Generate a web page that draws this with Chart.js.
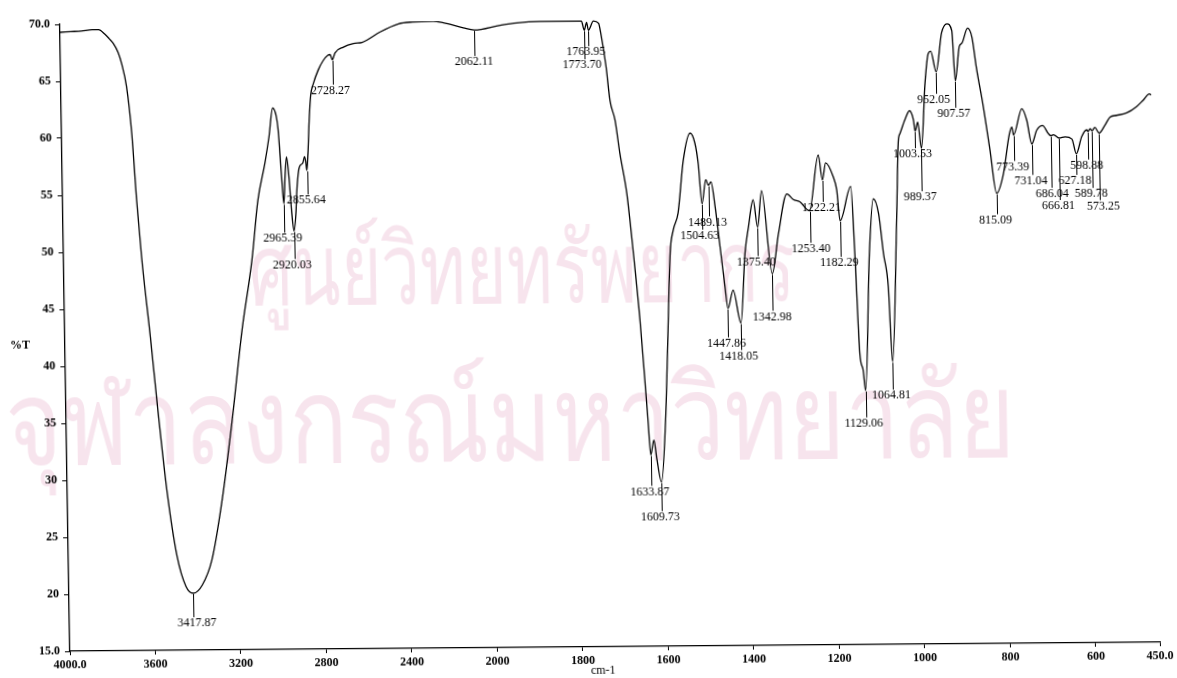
<!DOCTYPE html>
<html>
<head>
<meta charset="utf-8">
<script src="https://cdn.jsdelivr.net/npm/chart.js@4.4.1/dist/chart.umd.min.js"></script>
<style>
  html, body { margin: 0; padding: 0; background: #fff; }
  #ir {
    display: block;
    /* the trace was scanned slightly skewed */
    transform-origin: 588.5px 339px;
    transform: matrix(1, -0.0083, 0.016, 1, 0, 0);
  }
</style>
</head>
<body>
<canvas id="ir" width="1177" height="678"></canvas>
<script>
// IR spectrum, %T against wavenumber (cm-1)
const waveNumbers = [
  4000, 3950, 3900, 3850, 3820, 3790, 3770, 3752, 3730, 3714, 3693, 3672, 3654, 3635,
  3600, 3570, 3534, 3492, 3452, 3417.87, 3376, 3329, 3277, 3224, 3171, 3119, 3087, 3051,
  3030, 3011, 2995, 2987, 2974, 2965.39, 2958, 2950, 2940, 2930, 2920.03, 2910, 2904, 2894,
  2888, 2873, 2866, 2860, 2855.64, 2849, 2841, 2832, 2819, 2795, 2772, 2748, 2738, 2728.27,
  2715, 2675, 2628, 2588, 2564, 2502, 2416, 2350, 2253, 2206, 2113, 2062.11, 1970, 1931,
  1877, 1814, 1780, 1773.70, 1768, 1763.95, 1752, 1740, 1735, 1724, 1716, 1705, 1695, 1680,
  1667, 1654, 1645, 1639, 1633.87, 1626, 1620, 1609.73, 1598, 1591, 1581, 1573, 1561, 1547,
  1530, 1519, 1512, 1504.63, 1495, 1489.13, 1483, 1474, 1464, 1454, 1447.86, 1435, 1418.05,
  1406, 1397, 1385, 1375.40, 1365, 1342.98, 1327, 1306, 1291, 1276, 1253.40, 1231, 1222.21,
  1214, 1197, 1189, 1182.29, 1156, 1149, 1141, 1134, 1129.06, 1115, 1104, 1092, 1082, 1072,
  1064.81, 1050, 1043, 1039, 1027, 1016, 1007, 1003.53, 997, 989.37, 978.5, 970, 964, 952.05,
  938, 925, 914, 907.57, 897, 890.5, 877, 867, 858, 843, 829, 815.09, 798.5, 783, 777, 773.39,
  753, 742, 731.04, 719, 705, 692, 686.04, 680, 666.81, 653, 637, 627.18, 614, 602, 598.88,
  594, 589.78, 583, 573.25, 559, 547, 531.5, 508, 484.5, 469, 454, 450
];
const transmittance = [
  69.3, 69.35, 69.4, 69.5, 69.5, 69.1, 68.7, 68.3, 67.5, 66.5, 64.5, 60.4, 54.5, 49.5,
  42.5, 36.0, 29.0, 23.3, 20.6, 20.0, 20.7, 22.9, 28.1, 35.1, 43.0, 49.2, 54.4, 57.7,
  60.0, 62.5, 61.8, 60.6, 56.4, 54.1, 56.5, 58.2, 56.5, 53.5, 51.7, 53.2, 55.2, 57.0,
  57.4, 57.7, 58.2, 57.8, 57.0, 58.5, 61.4, 63.6, 64.6, 65.8, 66.6, 67.1, 67.15, 66.7,
  67.3, 67.8, 68.1, 68.2, 68.4, 69.1, 69.8, 69.95, 70.0, 69.85, 69.4, 69.2, 69.6, 69.8,
  69.9, 69.9, 69.9, 69.1, 69.8, 69.1, 69.9, 69.7, 68.8, 65.9, 62.9, 61.2, 58.3, 54.7,
  49.5, 43.6, 38.4, 34.8, 31.8, 33.1, 31.5, 29.4, 34.8, 40.7, 49.5, 51.5, 53.0, 57.6,
  60.0, 59.1, 57.3, 53.8, 55.9, 55.4, 55.7, 53.5, 50.0, 46.5, 44.6, 46.2, 43.3,
  49.4, 51.7, 54.1, 51.7, 54.9, 47.6, 51.1, 54.6, 54.1, 53.9, 53.1, 58.0, 55.8,
  57.3, 56.1, 54.9, 52.2, 55.2, 49.3, 40.5, 39.1, 37.3, 49.3, 54.1, 52.8, 49.3, 46.4,
  39.8, 52.2, 59.2, 59.8, 61.0, 61.8, 61.0, 60.0, 60.8, 58.5, 64.2, 66.8, 67.0, 65.2,
  68.6, 69.4, 68.8, 64.4, 67.4, 67.7, 69.0, 68.2, 65.6, 62.1, 58.3, 54.5, 56.2, 59.7, 60.3, 59.6,
  61.9, 60.9, 58.8, 60.0, 60.4, 59.7, 59.5, 59.6, 59.3, 59.4, 59.2, 57.9, 59.4, 60.0, 59.85,
  60.1, 59.9, 60.2, 59.7, 60.4, 61.1, 61.25, 61.45, 62.0, 62.55, 63.1, 63.0
];

// picked peaks (cm-1)
const peakWaves = [
  3417.87, 2965.39, 2920.03, 2855.64, 2728.27, 2062.11, 1773.70, 1763.95, 1633.87, 1609.73,
  1504.63, 1489.13, 1447.86, 1418.05, 1375.40, 1342.98, 1253.40, 1222.21, 1182.29, 1129.06,
  1064.81, 1003.53, 989.37, 952.05, 907.57, 815.09, 773.39, 731.04, 686.04, 666.81, 627.18,
  598.88, 589.78, 573.25
];
// how far below each peak its label sits, and sideways nudge (px)
const peakDrop  = [30, 35, 34, 30, 31, 32, 35, 22, 37, 35, 32, 37, 35, 33, 35, 43, 38, 28, 42, 33,
                   34, 23, 49, 28, 33, 27, 32, 37, 58, 68, 27, 34, 63, 73];
const peakShift = [3, -2, -3, -2, -3, -1, -3, -3, -2, -2, -3, -2, -2, -3, -2, -1, 0, -2, -2, -3,
                   -2, -3, -2, -3, -2, -2, -2, -2, 0, -2, -2, -2, -2, 3];

const xTickValues = [4000, 3600, 3200, 2800, 2400, 2000, 1800, 1600, 1400, 1200, 1000, 800, 600, 450];
const xTickLabels = ['4000.0', '3600', '3200', '2800', '2400', '2000', '1800', '1600', '1400',
                     '1200', '1000', '800', '600', '450.0'];
const yTickValues = [15, 20, 25, 30, 35, 40, 45, 50, 55, 60, 65, 70];
const yTickLabels = ['15.0', '20', '25', '30', '35', '40', '45', '50', '55', '60', '65', '70.0'];

const SERIF = '"Liberation Serif", "Times New Roman", serif';
const SANS = '"Noto Sans", "DejaVu Sans", sans-serif';

// wavenumber axis: 4000-2000 compressed, 2000-450 at double scale
const HI = 4000, BREAK = 2000, LO = 450;
function axisPos(w) {
  return w >= BREAK ? HI - w : (HI - BREAK) + 2 * (BREAK - w);
}
const AXIS_SPAN = axisPos(LO);

class WaveNumberScale extends Chart.LinearScale {
  determineDataLimits() {
    this.min = LO;
    this.max = HI;
  }
  buildTicks() {
    return xTickValues.map(v => ({ value: v }));
  }
  getPixelForValue(value) {
    return this.getPixelForDecimal(axisPos(value) / AXIS_SPAN);
  }
  getValueForPixel(pixel) {
    const p = this.getDecimalForPixel(pixel) * AXIS_SPAN;
    return p <= HI - BREAK ? HI - p : BREAK - (p - (HI - BREAK)) / 2;
  }
}
WaveNumberScale.id = 'wavenumber';
WaveNumberScale.defaults = {};
Chart.register(WaveNumberScale);

const points = waveNumbers.map((w, i) => ({ x: w, y: transmittance[i] }));

const peakLabels = {
  id: 'peakLabels',
  afterDatasetsDraw(chart) {
    const { ctx, scales: { x, y } } = chart;
    ctx.save();
    ctx.strokeStyle = '#000';
    ctx.lineWidth = 1;
    ctx.fillStyle = '#000';
    ctx.font = '12px ' + SERIF;
    ctx.textAlign = 'center';
    ctx.textBaseline = 'middle';
    peakWaves.forEach((w, i) => {
      const idx = waveNumbers.indexOf(w);
      const px = Math.round(x.getPixelForValue(w)) + 0.5;
      const py = y.getPixelForValue(transmittance[idx]);
      const ly = py + peakDrop[i];
      ctx.beginPath();
      ctx.moveTo(px, py + 1);
      ctx.lineTo(px, ly - 6);
      ctx.stroke();
      ctx.fillText(w.toFixed(2), px + peakShift[i], ly);
    });
    ctx.restore();
  }
};

function stretchedText(ctx, text, x, y, size, sx) {
  ctx.save();
  ctx.translate(x, y);
  ctx.scale(sx, 1);
  ctx.font = size + 'px ' + SANS;
  ctx.fillText(text, 0, 0);
  ctx.restore();
}

const extraText = {
  id: 'extraText',
  beforeDraw(chart) {
    const ctx = chart.ctx;
    ctx.save();
    ctx.fillStyle = '#fff';
    ctx.fillRect(0, 0, chart.width, chart.height);
    // library watermark
    ctx.fillStyle = 'rgba(226, 150, 185, 0.26)';
    ctx.textAlign = 'left';
    ctx.textBaseline = 'alphabetic';
    stretchedText(ctx, 'ศูนย์วิทยทรัพยากร', 250, 302, 98, 0.71);
    stretchedText(ctx, 'จุฬาลงกรณ์มหาวิทยาลัย', 4, 460, 118, 0.82);
    ctx.restore();
  },
  afterDraw(chart) {
    const ctx = chart.ctx;
    ctx.save();
    ctx.fillStyle = '#000';
    ctx.font = 'bold 12px ' + SERIF;
    ctx.textAlign = 'center';
    ctx.textBaseline = 'middle';
    ctx.fillText('%T', 20, 341);
    ctx.font = '12px ' + SERIF;
    ctx.fillText('cm-1', 598, 671);
    ctx.restore();
  }
};

new Chart(document.getElementById('ir'), {
  type: 'line',
  data: {
    datasets: [{
      data: points,
      borderColor: '#000',
      borderWidth: 1.3,
      pointRadius: 0,
      fill: false,
      cubicInterpolationMode: 'monotone'
    }]
  },
  options: {
    responsive: false,
    animation: false,
    events: [],
    layout: { padding: { top: 20, right: 22, left: 0, bottom: 0 } },
    plugins: { legend: { display: false }, tooltip: { enabled: false } },
    scales: {
      x: {
        type: 'wavenumber',
        position: 'bottom',
        afterFit(scale) { scale.height = 31; },
        border: { display: true, color: '#000', width: 1.3 },
        grid: { display: true, drawOnChartArea: false, drawTicks: true, tickLength: 4, color: '#000' },
        ticks: {
          autoSkip: false,
          maxRotation: 0,
          padding: 3,
          color: '#000',
          font: { family: SERIF, size: 12, weight: 'bold' },
          callback: (v, i) => xTickLabels[i]
        }
      },
      y: {
        type: 'linear',
        min: 15,
        max: 70,
        afterFit(scale) { scale.width = 65; },
        afterBuildTicks(scale) { scale.ticks = yTickValues.map(v => ({ value: v })); },
        border: { display: true, color: '#000', width: 1.3 },
        grid: { display: true, drawOnChartArea: false, drawTicks: true, tickLength: 5, color: '#000' },
        ticks: {
          padding: 5,
          color: '#000',
          font: { family: SERIF, size: 12, weight: 'bold' },
          callback: (v, i) => yTickLabels[i]
        }
      }
    }
  },
  plugins: [peakLabels, extraText]
});
</script>
</body>
</html>
